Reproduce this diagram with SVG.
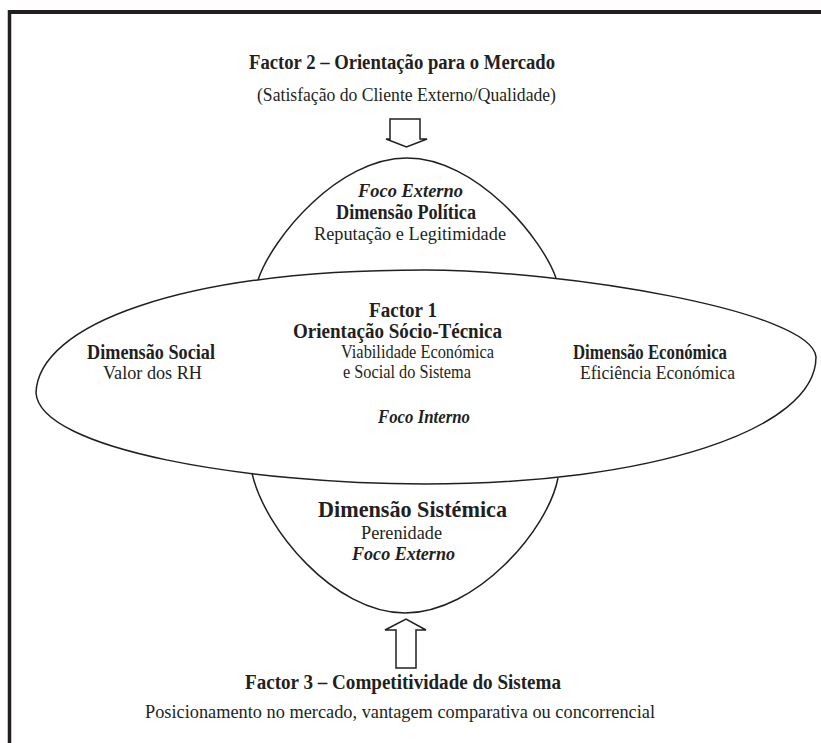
<svg xmlns="http://www.w3.org/2000/svg" width="821" height="743" viewBox="0 0 821 743">
<style>
text{font-family:"Liberation Serif","Times New Roman",serif;fill:#231f20;}
.b{font-weight:bold;font-size:20px;}
.r{font-size:19px;}
.bi{font-weight:bold;font-style:italic;font-size:19px;}
.ln{fill:none;stroke:#231f20;stroke-width:1.5;}
.arr{fill:#fff;stroke:#231f20;stroke-width:1.5;stroke-linejoin:miter;}
</style>
<rect width="821" height="743" fill="#fff"/>
<g id="frame">
<line x1="8" y1="12" x2="821" y2="12" stroke="#231f20" stroke-width="4"/>
<line x1="9.5" y1="10" x2="9.5" y2="743" stroke="#231f20" stroke-width="3.5"/>
</g>
<g id="factor2">
<text class="b" x="249" y="69" textLength="306" lengthAdjust="spacingAndGlyphs">Factor 2 – Orientação para o Mercado</text>
<text class="r" x="257" y="101" textLength="299" lengthAdjust="spacingAndGlyphs">(Satisfação do Cliente Externo/Qualidade)</text>
</g>
<g id="connectors">
<path class="arr" d="M390 119 L420 119 L420 139 L427 139 L406.5 147 L386 139 L390 139 Z"/>
<path class="arr" d="M396 668 L416 668 L416 630 L426 630 L406 619 L385 630 L396 630 Z"/>
</g>
<g id="politica">
<path class="ln" fill="#fff" d="M258 280 C272 238 338 158 407 158 C476 158 542 238 556 278"/>
<text class="bi" x="358" y="197" textLength="105" lengthAdjust="spacingAndGlyphs">Foco Externo</text>
<text class="b" x="336" y="219" textLength="140" lengthAdjust="spacingAndGlyphs">Dimensão Política</text>
<text class="r" x="314" y="240" textLength="192" lengthAdjust="spacingAndGlyphs">Reputação e Legitimidade</text>
</g>
<g id="sistemica">
<path class="ln" d="M252 473 C264 528 334 613 405 613 C476 613 548 530 558 478"/>
<text class="b" style="font-size:24px" x="318" y="517" textLength="189" lengthAdjust="spacingAndGlyphs">Dimensão Sistémica</text>
<text class="r" x="361" y="539" textLength="81" lengthAdjust="spacingAndGlyphs">Perenidade</text>
<text class="bi" x="352" y="560" textLength="103" lengthAdjust="spacingAndGlyphs">Foco Externo</text>
</g>
<g id="factor1">
<path class="ln" d="M36 393 C38 325 180 270 425 270 C560 270 812 310 816 357 C816 430 650 484 425 484 C250 484 40 450 36 393 Z"/>
<text class="b" x="369" y="317" textLength="68" lengthAdjust="spacingAndGlyphs">Factor 1</text>
<text class="b" x="293" y="338" textLength="209" lengthAdjust="spacingAndGlyphs">Orientação Sócio-Técnica</text>
<text class="r" x="341" y="358" textLength="153" lengthAdjust="spacingAndGlyphs">Viabilidade Económica</text>
<text class="r" x="343" y="378" textLength="128" lengthAdjust="spacingAndGlyphs">e Social do Sistema</text>
<text class="bi" x="378" y="423" textLength="92" lengthAdjust="spacingAndGlyphs">Foco Interno</text>
</g>
<g id="social">
<text class="b" x="87" y="359" textLength="128" lengthAdjust="spacingAndGlyphs">Dimensão Social</text>
<text class="r" x="103" y="379" textLength="99" lengthAdjust="spacingAndGlyphs">Valor dos RH</text>
</g>
<g id="economica">
<text class="b" x="573" y="359" textLength="154" lengthAdjust="spacingAndGlyphs">Dimensão Económica</text>
<text class="r" x="580" y="379" textLength="155" lengthAdjust="spacingAndGlyphs">Eficiência Económica</text>
</g>
<g id="factor3">
<text class="b" x="245" y="689" textLength="316" lengthAdjust="spacingAndGlyphs">Factor 3 – Competitividade do Sistema</text>
<text class="r" x="145" y="718" textLength="510" lengthAdjust="spacingAndGlyphs">Posicionamento no mercado, vantagem comparativa ou concorrencial</text>
</g>
</svg>
